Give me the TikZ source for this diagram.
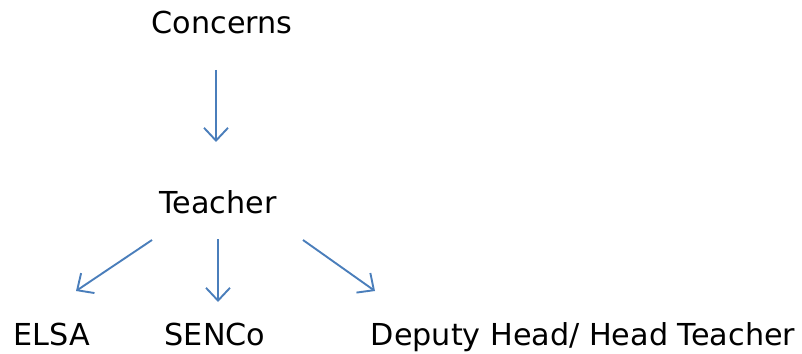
\documentclass[tikz,border=0pt]{standalone}
\usepackage{fontspec}
\setmainfont{DejaVu Sans}
\usepackage{xcolor}
\usepackage{tikz}
\usetikzlibrary{arrows.meta,positioning,calc}
\definecolor{ink}{HTML}{000000}
\definecolor{flowblue}{HTML}{4A7EBB}
\tikzset{
  role/.style={text=ink, font=\fontsize{21.5}{26}\selectfont, inner sep=0pt},
  flowarr/.style={-{Straight Barb[length=3.2mm,width=6mm]}, draw=flowblue, line width=1.35pt}
}

\begin{document}
\begin{tikzpicture}[x=0.025cm, y=-0.025cm]
  \useasboundingbox (0,0) rectangle (802,354);

  % Nodes
  \node[role] (concerns) at (222,22) {Concerns};
  \node[role] (teacher) at (218,202) {Teacher};
  \node[role, anchor=base] (elsa) at (52,345) {ELSA};
  \node[role, anchor=base] (senco) at (215,345) {SENCo};
  \node[role, anchor=base] (deputy) at (583,345) {Deputy Head/ Head Teacher};

  % Arrow ends
  \coordinate (c1) at (216,70);
  \coordinate (c2) at (216,142);
  \coordinate (t1) at (152,240);
  \coordinate (e1) at (76,291);
  \coordinate (t2) at (218,239);
  \coordinate (s1) at (218,302);
  \coordinate (t3) at (303,240);
  \coordinate (d1) at (375,291);

  \draw[flowarr] (c1) -- (c2);
  \draw[flowarr] (t1) -- (e1);
  \draw[flowarr] (t2) -- (s1);
  \draw[flowarr] (t3) -- (d1);
\end{tikzpicture}
\end{document}
